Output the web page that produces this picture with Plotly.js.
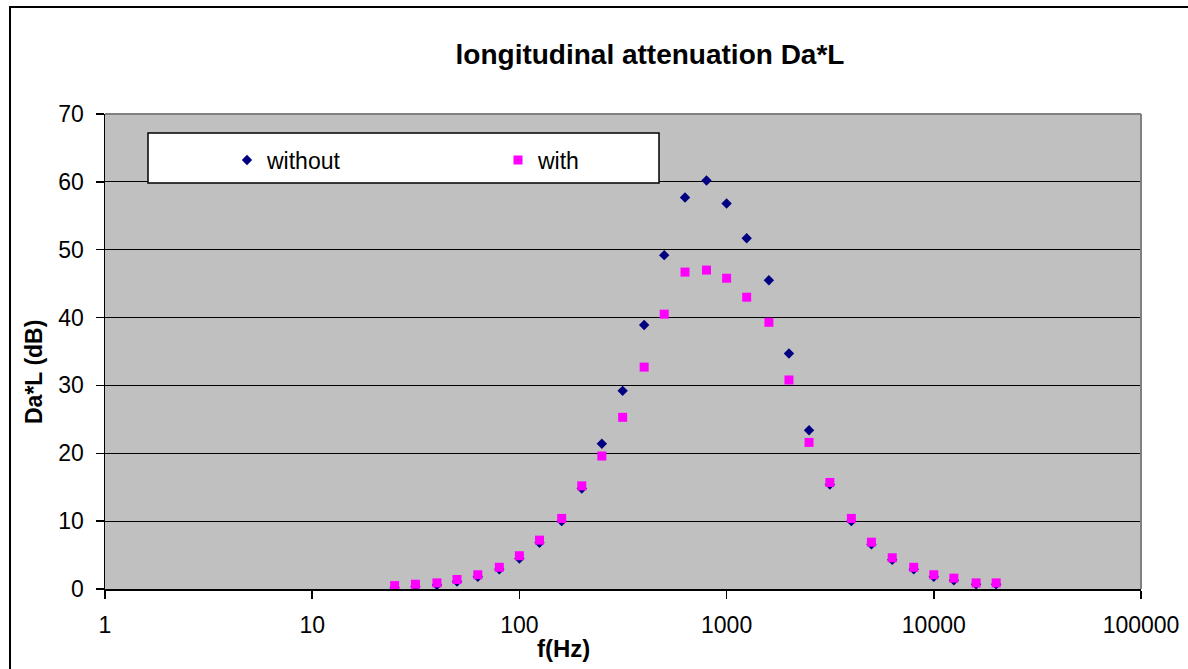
<!DOCTYPE html>
<html>
<head>
<meta charset="utf-8">
<script src="https://cdn.plot.ly/plotly-3.0.1.min.js"></script>
<style>html,body{margin:0;padding:0;background:#fff;}#chart{width:1188px;height:669px;}</style>
</head>
<body>
<div id="chart"></div>
<script>
// Third-octave band centre frequencies (Hz)
const freqs = [25, 31.5, 40, 50, 63, 80, 100, 125, 160, 200, 250, 315, 400, 500, 630, 800, 1000, 1250, 1600, 2000, 2500, 3150, 4000, 5000, 6300, 8000, 10000, 12500, 16000, 20000];
// Da*L (dB) without
const withoutVals = [0.2, 0.35, 0.6, 1.1, 1.8, 2.9, 4.5, 6.8, 10.0, 14.8, 21.4, 29.2, 38.9, 49.2, 57.7, 60.2, 56.8, 51.7, 45.5, 34.7, 23.4, 15.4, 10.0, 6.6, 4.3, 2.9, 1.8, 1.3, 0.7, 0.7];
// Da*L (dB) with
const withVals = [0.5, 0.7, 0.9, 1.4, 2.1, 3.2, 4.9, 7.2, 10.4, 15.2, 19.6, 25.3, 32.7, 40.5, 46.7, 47.0, 45.8, 43.0, 39.3, 30.8, 21.6, 15.7, 10.4, 6.9, 4.6, 3.2, 2.1, 1.6, 0.9, 0.9];
const seriesNames = ["without", "with"];
const xTickVals = [1, 10, 100, 1000, 10000, 100000];
const xTickText = ["1", "10", "100", "1000", "10000", "100000"];
const yTickVals = [0, 10, 20, 30, 40, 50, 60, 70];
const titleText = "longitudinal attenuation Da*L";
const xTitle = "f(Hz)";
const yTitle = "Da*L (dB)";

const FONT = "Liberation Sans, Arial, sans-serif";

const traces = [
  {
    x: freqs, y: withoutVals, name: seriesNames[0], type: "scatter", mode: "markers",
    marker: {symbol: "diamond", size: 8, color: "#000080", line: {width: 0}}
  },
  {
    x: freqs, y: withVals, name: seriesNames[1], type: "scatter", mode: "markers",
    marker: {symbol: "square", size: 9, color: "#FF00FF", line: {width: 0}}
  }
];

const L = 105, R = 47, T = 114, B = 80;
const W = 1188, H = 669;
const pw = W - L - R, ph = H - T - B;
const px = v => (v - L) / pw;
const py = v => (H - B - v) / ph;

const layout = {
  width: W, height: H,
  margin: {l: L, r: R, t: T, b: B, pad: 0},
  paper_bgcolor: "#ffffff",
  plot_bgcolor: "#C0C0C0",
  font: {family: FONT, size: 23, color: "#000"},
  title: {
    text: "<b>" + titleText + "</b>",
    font: {family: FONT, size: 28, color: "#000"},
    xref: "paper", x: px(650), xanchor: "center",
    yref: "container", y: 1 - 54 / H, yanchor: "middle"
  },
  xaxis: {
    type: "log", range: [0, 5],
    tickvals: xTickVals, ticktext: xTickText,
    ticks: "outside", ticklen: 8, tickcolor: "#000", tickwidth: 1.5,
    ticklabelstandoff: 6,
    showgrid: false, zeroline: false,
    showline: true, linecolor: "#000", linewidth: 2,
    tickfont: {family: FONT, size: 23, color: "#000"},
    fixedrange: true
  },
  yaxis: {
    range: [0, 70], tickvals: yTickVals,
    ticks: "outside", ticklen: 8, tickcolor: "#000", tickwidth: 1.5,
    ticklabelstandoff: 7,
    showgrid: true, gridcolor: "#000", gridwidth: 1.2,
    zeroline: false,
    showline: true, linecolor: "#000", linewidth: 1.5,
    tickfont: {family: FONT, size: 23, color: "#000"},
    fixedrange: true
  },
  showlegend: true,
  legend: {
    orientation: "h",
    x: px(227), xanchor: "left",
    y: py(160), yanchor: "middle",
    bgcolor: "rgba(0,0,0,0)", borderwidth: 0,
    entrywidth: 226, entrywidthmode: "pixels",
    font: {family: FONT, size: 23, color: "#000"}
  },
  annotations: [
    {
      text: "<b>" + xTitle + "</b>", xref: "paper", yref: "paper",
      x: px(563), y: py(648), xanchor: "center", yanchor: "middle",
      showarrow: false, font: {family: FONT, size: 24, color: "#000"}
    },
    {
      text: "<b>" + yTitle + "</b>", xref: "paper", yref: "paper", textangle: -90,
      x: px(34), y: py(372), xanchor: "center", yanchor: "middle",
      showarrow: false, font: {family: FONT, size: 23, color: "#000"}
    }
  ],
  shapes: [
    // outer chart border
    {type: "rect", xref: "paper", yref: "paper", x0: px(10), x1: px(1260), y0: py(740), y1: py(7),
     line: {color: "#000", width: 2}, fillcolor: "rgba(0,0,0,0)", layer: "above"},
    // plot area top and right borders (gray)
    {type: "line", xref: "paper", yref: "paper", x0: 0, x1: 1, y0: 1, y1: 1, line: {color: "#808080", width: 2}, layer: "above"},
    {type: "line", xref: "paper", yref: "paper", x0: 1, x1: 1, y0: 0, y1: 1, line: {color: "#808080", width: 2}, layer: "above"},
    // legend box
    {type: "rect", xref: "paper", yref: "paper", x0: px(148), x1: px(659), y0: py(183), y1: py(133),
     line: {color: "#000", width: 1.5}, fillcolor: "#ffffff", layer: "above"}
  ]
};

Plotly.newPlot("chart", traces, layout, {staticPlot: true, displayModeBar: false});
</script>
</body>
</html>
